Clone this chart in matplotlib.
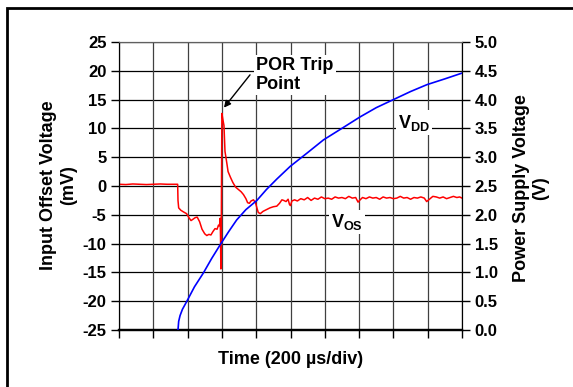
import matplotlib
matplotlib.use("Agg")
import matplotlib.pyplot as plt
from matplotlib.patches import Rectangle

plt.rcParams['font.family'] = ['Liberation Sans', 'DejaVu Sans']
plt.rcParams['font.weight'] = 'bold'
plt.rcParams['mathtext.fontset'] = 'custom'
plt.rcParams['mathtext.rm'] = 'Liberation Sans:bold'
plt.rcParams['mathtext.bf'] = 'Liberation Sans:bold'

# time in divisions (200 us/div)
vos_t = [0.0, 0.2, 0.4, 0.6, 0.8, 1.0, 1.2, 1.4, 1.6, 1.71, 1.72, 1.74, 1.8, 1.88,
         1.97, 2.05, 2.1, 2.15, 2.22, 2.28, 2.35, 2.42, 2.5, 2.56, 2.62, 2.68, 2.74,
         2.8, 2.86, 2.9, 2.93, 2.95, 2.96, 2.97, 2.98, 2.99, 3.0, 3.03, 3.06, 3.09,
         3.13, 3.18, 3.25, 3.32, 3.4, 3.48, 3.56, 3.63, 3.7, 3.75, 3.8, 3.85, 3.92,
         3.98, 4.02, 4.06, 4.12, 4.2, 4.3, 4.4, 4.5, 4.6, 4.68, 4.75, 4.8, 4.87, 4.93,
         4.97, 5.0, 5.04, 5.12, 5.2, 5.3, 5.4, 5.5, 5.6, 5.7, 5.8, 5.9, 6.0, 6.1, 6.2,
         6.3, 6.4, 6.5, 6.6, 6.7, 6.8, 6.9, 6.97, 7.03, 7.1, 7.2, 7.3, 7.4, 7.5, 7.6,
         7.7, 7.8, 7.9, 8.0, 8.1, 8.2, 8.3, 8.4, 8.5, 8.6, 8.7, 8.8, 8.9, 8.97, 9.05,
         9.15, 9.25, 9.35, 9.45, 9.55, 9.65, 9.75, 9.85, 9.93, 10.0]
vos_mv = [0.3, 0.25, 0.35, 0.3, 0.25, 0.3, 0.35, 0.3, 0.3, 0.3, -2.5, -3.8, -4.2, -4.5,
          -4.8, -5.6, -6.0, -5.8, -5.5, -5.4, -6.2, -7.5, -8.3, -8.6, -8.4, -8.5, -7.9,
          -7.4, -7.5, -6.8, -6.9, -5.6, -9.0, -14.4, -10.0, 2.0, 12.6, 11.5, 10.5, 6.0,
          4.5, 2.5, 1.5, 0.6, -0.2, -0.6, -1.0, -1.5, -2.2, -2.9, -3.0, -2.6, -2.4,
          -2.9, -3.8, -4.6, -4.8, -4.4, -4.1, -3.8, -3.6, -3.5, -3.0, -2.4, -2.5, -2.7, -2.3,
          -3.2, -3.4, -2.6, -2.4, -2.6, -2.2, -2.4, -2.0, -2.5, -2.1, -2.3, -1.9, -2.2, -2.1, -2.3,
          -1.9, -2.1, -2.0, -2.2, -1.8, -2.1, -2.0, -2.8, -2.4, -2.0, -2.2, -1.9, -2.1, -2.0, -2.3,
          -1.9, -2.1, -2.0, -2.2, -2.1, -1.8, -2.1, -2.0, -2.3, -2.0, -2.1, -1.9, -2.1, -2.7, -2.3,
          -1.8, -1.9, -2.1, -1.9, -2.2, -2.0, -1.8, -2.0, -1.9, -2.1]

vdd_t = [1.72, 1.74, 1.78, 1.85, 1.97, 2.2, 2.46, 2.7, 2.95, 3.2, 3.43, 3.7, 4.02, 4.3,
         4.6, 4.99, 5.5, 5.96, 6.55, 7.03, 7.5, 8.0, 8.5, 8.98, 9.5, 10.0]
vdd_v = [0.0, 0.15, 0.25, 0.36, 0.49, 0.75, 0.99, 1.24, 1.48, 1.71, 1.91, 2.09, 2.25, 2.44,
         2.62, 2.84, 3.08, 3.30, 3.52, 3.70, 3.86, 4.0, 4.14, 4.26, 4.36, 4.46]

left_ticks = [-25, -20, -15, -10, -5, 0, 5, 10, 15, 20, 25]
right_ticks = [0.0, 0.5, 1.0, 1.5, 2.0, 2.5, 3.0, 3.5, 4.0, 4.5, 5.0]

fig = plt.figure(figsize=(5.73, 3.87), dpi=100)
ax = fig.add_axes([119 / 573, 1 - 330 / 387, 343 / 573, 288 / 387])
ax2 = ax.twinx()

ax.set_xlim(0, 10)
ax.set_ylim(-25, 25)
ax2.set_ylim(0, 5)

ax.set_xticks(range(11))
ax.set_xticklabels([])
ax.set_yticks(left_ticks)
ax.set_yticklabels([str(v) for v in left_ticks])
ax2.set_yticks(right_ticks)
ax2.set_yticklabels(['%.1f' % v for v in right_ticks])

for y in left_ticks:
    ax.axhline(y, color='black', lw=0.9, zorder=1)
for x in range(11):
    ax.axvline(x, color='#404040', lw=0.9, zorder=1)

ax.plot(vos_t, vos_mv, color='red', lw=1.1, zorder=3)
ax2.plot(vdd_t, vdd_v, color='blue', lw=1.2, zorder=3)

for a in (ax, ax2):
    a.tick_params(direction='out', length=6, width=1, labelsize=12, colors='black')
    for s in a.spines.values():
        s.set_color('black')
    a.spines['top'].set_color('#606060')
    a.spines['bottom'].set_linewidth(1.6)
ax.tick_params(axis='y', pad=3)
ax2.tick_params(axis='y', pad=3)

fig.text(58.5 / 573, 1 - 185 / 387, 'Input Offset Voltage\n(mV)', fontsize=13,
         fontweight='bold', rotation=90, ha='center', va='center', linespacing=1.2)
fig.text(531 / 573, 1 - 188 / 387, 'Power Supply Voltage\n(V)', fontsize=13,
         fontweight='bold', rotation=90, ha='center', va='center', linespacing=1.2)
fig.text(290.5 / 573, 1 - 359 / 387, 'Time (200 µs/div)', fontsize=13,
         fontweight='bold', ha='center', va='center')

box = dict(facecolor='white', edgecolor='none', pad=1.5)
ax.text(4.0, 19.3, 'POR Trip\nPoint', fontsize=13, fontweight='bold', ha='left',
        va='center', linespacing=1.15, bbox=box, zorder=4)
ax.annotate('', xy=(3.06, 13.6), xytext=(3.82, 19.3),
            arrowprops=dict(arrowstyle='-|>', color='black', lw=1.0,
                            mutation_scale=10, shrinkA=0, shrinkB=0), zorder=4)
ax.text(8.6, 11.0, r'$\mathbf{V_{DD}}$', fontsize=13, ha='center', va='center',
        bbox=box, zorder=4)
ax.text(6.65, -6.3, r'$\mathbf{V_{OS}}$', fontsize=13, ha='center', va='center',
        bbox=box, zorder=4)

fig.patches.append(Rectangle((7 / 573, -0.1), 1.2, 1.1 - 8 / 387,
                             transform=fig.transFigure, fill=False,
                             edgecolor='black', lw=2))

fig.savefig('out.png', dpi=100)
